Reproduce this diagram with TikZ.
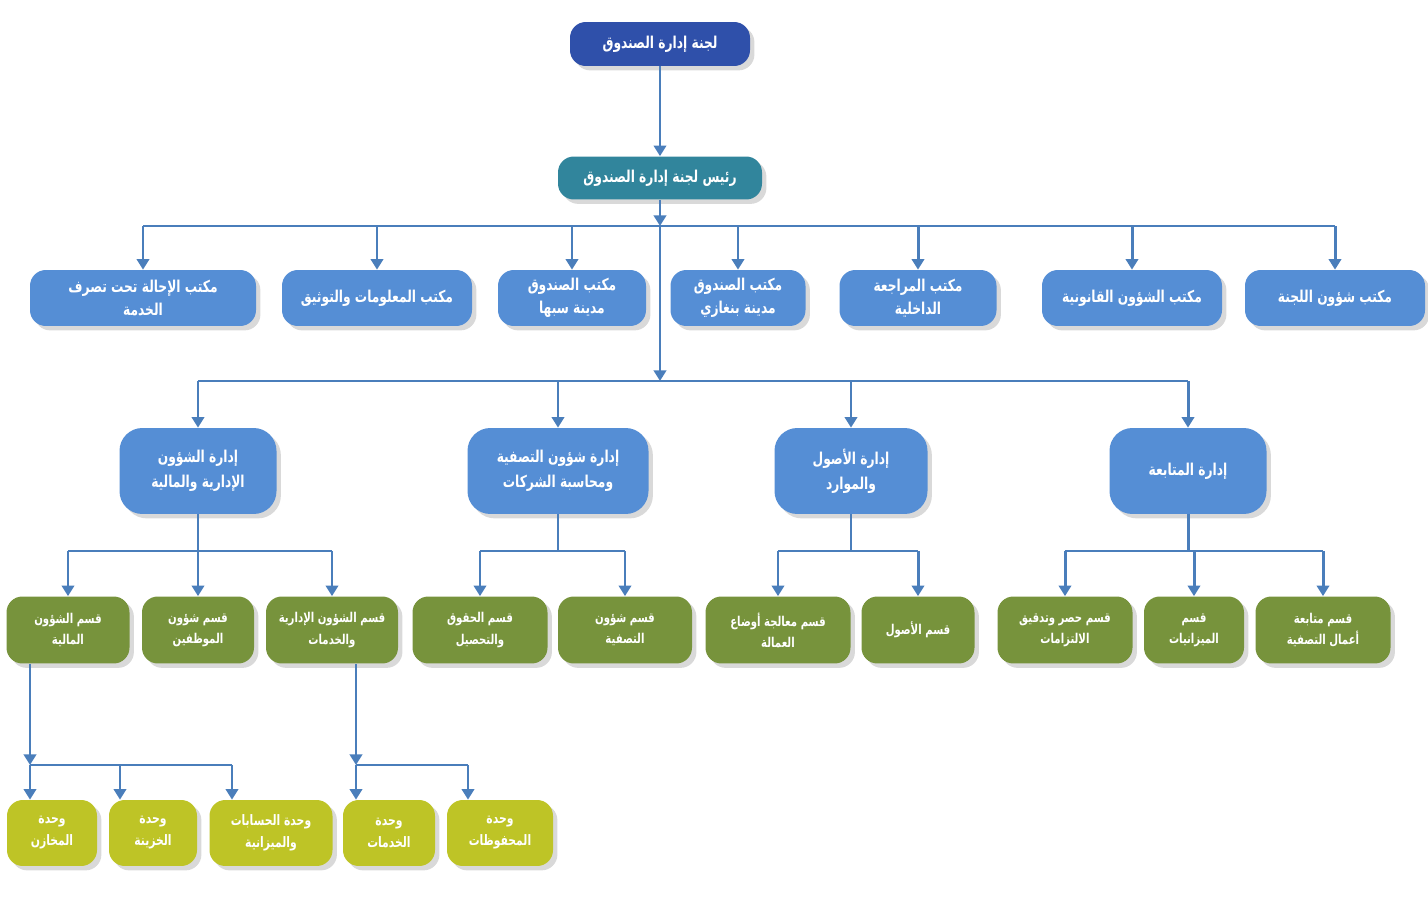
\documentclass[tikz,border=0pt]{standalone}
\usepackage{fontspec}
\usetikzlibrary{arrows.meta,shadows}
\TeXXeTstate=1
\newfontfamily\arabicfont[Script=Arabic,FakeStretch=0.75]{DejaVu Sans}
\newcommand{\ar}[1]{{\arabicfont\bfseries\beginR #1\endR}}

\definecolor{topblue}{RGB}{47,80,170}
\definecolor{teal}{RGB}{49,133,156}
\definecolor{offblue}{RGB}{85,142,213}
\definecolor{olive}{RGB}{119,147,60}
\definecolor{lime}{RGB}{190,196,38}
\definecolor{linkblue}{RGB}{74,126,187}

\tikzset{
  box/.style={rounded corners=9pt, text=white, align=center, inner sep=1pt,
    drop shadow={opacity=0.3, shadow xshift=2.5pt, shadow yshift=-2.5pt}},
  wd/.style={minimum width=#1*0.02cm},
  lvlzero/.style={box, fill=topblue, minimum height=0.88cm, font=\fontsize{9.3}{12}\selectfont},
  lvlchair/.style={box, fill=teal, minimum height=0.86cm, font=\fontsize{9.3}{12}\selectfont},
  office/.style={box, fill=offblue, minimum height=1.12cm, font=\fontsize{9.3}{13}\selectfont},
  dept/.style={box, fill=offblue, rounded corners=13pt, minimum height=1.72cm, font=\fontsize{9.3}{14}\selectfont},
  section/.style={box, fill=olive, minimum height=1.34cm, font=\fontsize{7.7}{12}\selectfont},
  unit/.style={box, fill=lime, minimum height=1.32cm, font=\fontsize{8.2}{12.5}\selectfont},
  link/.style={draw=linkblue, line width=1.7pt},
  arr/.style={link, -{Triangle[width=7pt,length=6pt]}}
}

\begin{document}
\begin{tikzpicture}[x=0.02cm,y=-0.02cm]
\useasboundingbox (0,0) rectangle (1428,899);

% committee and chairman
\node[lvlzero,wd=180] (board) at (660,44) {\ar{لجنة إدارة الصندوق}};
\node[lvlchair,wd=204] (chair) at (660,178) {\ar{رئيس لجنة إدارة الصندوق}};

% offices
\node[office,wd=226] (offref) at (143,298) {\ar{مكتب الإحالة تحت تصرف}\\\ar{الخدمة}};
\node[office,wd=190] (offinfo) at (377,298) {\ar{مكتب المعلومات والتوثيق}};
\node[office,wd=148] (offsabha) at (572,298) {\ar{مكتب الصندوق}\\\ar{مدينة سبها}};
\node[office,wd=135] (offbeng) at (738,298) {\ar{مكتب الصندوق}\\\ar{مدينة بنغازي}};
\node[office,wd=157] (offaudit) at (918,298) {\ar{مكتب المراجعة}\\\ar{الداخلية}};
\node[office,wd=180] (offlegal) at (1132,298) {\ar{مكتب الشؤون القانونية}};
\node[office,wd=180] (offcomm) at (1335,298) {\ar{مكتب شؤون اللجنة}};

% departments
\node[dept,wd=157] (depadm) at (198,471) {\ar{إدارة الشؤون}\\\ar{الإدارية والمالية}};
\node[dept,wd=181] (depliq) at (558,471) {\ar{إدارة شؤون التصفية}\\\ar{ومحاسبة الشركات}};
\node[dept,wd=153] (depass) at (851,471) {\ar{إدارة الأصول}\\\ar{والموارد}};
\node[dept,wd=157] (depfol) at (1188,471) {\ar{إدارة المتابعة}};

% sections
\node[section,wd=123] (secfin) at (68,630) {\ar{قسم الشؤون}\\\ar{المالية}};
\node[section,wd=112] (secstaff) at (198,630) {\ar{قسم شؤون}\\\ar{الموظفين}};
\node[section,wd=132] (secserv) at (332,630) {\ar{قسم الشؤون الإدارية}\\\ar{والخدمات}};
\node[section,wd=135] (secrights) at (480,630) {\ar{قسم الحقوق}\\\ar{والتحصيل}};
\node[section,wd=134] (secliq) at (625,630) {\ar{قسم شؤون}\\\ar{التصفية}};
\node[section,wd=145] (seclabor) at (778,630) {\ar{قسم معالجة أوضاع}\\\ar{العمالة}};
\node[section,wd=113] (secass) at (918,630) {\ar{قسم الأصول}};
\node[section,wd=135] (secaudit) at (1065,630) {\ar{قسم حصر وتدقيق}\\\ar{الالتزامات}};
\node[section,wd=100] (secbudg) at (1194,630) {\ar{قسم}\\\ar{الميزانيات}};
\node[section,wd=135] (secfol) at (1323,630) {\ar{قسم متابعة}\\\ar{أعمال التصفية}};

% units
\node[unit,wd=90] (unitstore) at (52,833) {\ar{وحدة}\\\ar{المخازن}};
\node[unit,wd=88] (unittreas) at (153,833) {\ar{وحدة}\\\ar{الخزينة}};
\node[unit,wd=123] (unitacc) at (271,833) {\ar{وحدة الحسابات}\\\ar{والميزانية}};
\node[unit,wd=92] (unitserv) at (389,833) {\ar{وحدة}\\\ar{الخدمات}};
\node[unit,wd=106] (unitarch) at (500,833) {\ar{وحدة}\\\ar{المحفوظات}};

% bus points
\coordinate (busone) at (660,226);
\coordinate (bustwo) at (660,381);
\coordinate (forkadm) at (198,551);
\coordinate (forkliq) at (558,551);
\coordinate (forkass) at (851,551);
\coordinate (forkfol) at (1188,551);
\coordinate (forkfin) at (30,765);
\coordinate (forktreas) at (120,765);
\coordinate (forkacc) at (232,765);
\coordinate (forkserv) at (356,765);
\coordinate (forkarch) at (468,765);

\draw[arr] (board) -- (chair);
\draw[arr] (chair) -- (busone);
\draw[link] (busone -| offref) -- (busone -| offcomm);
\foreach \n in {offref,offinfo,offsabha,offbeng,offaudit,offlegal,offcomm}
  \draw[arr] (busone -| \n) -- (\n);

\draw[arr] (busone) -- (bustwo);
\draw[link] (bustwo -| depadm) -- (bustwo -| depfol);
\foreach \n in {depadm,depliq,depass,depfol}
  \draw[arr] (bustwo -| \n) -- (\n);

\draw[link] (depadm) -- (forkadm);
\draw[link] (forkadm -| secfin) -- (forkadm -| secserv);
\foreach \n in {secfin,secstaff,secserv}
  \draw[arr] (forkadm -| \n) -- (\n);

\draw[link] (depliq) -- (forkliq);
\draw[link] (forkliq -| secrights) -- (forkliq -| secliq);
\foreach \n in {secrights,secliq}
  \draw[arr] (forkliq -| \n) -- (\n);

\draw[link] (depass) -- (forkass);
\draw[link] (forkass -| seclabor) -- (forkass -| secass);
\foreach \n in {seclabor,secass}
  \draw[arr] (forkass -| \n) -- (\n);

\draw[link] (depfol) -- (forkfol);
\draw[link] (forkfol -| secaudit) -- (forkfol -| secfol);
\foreach \n in {secaudit,secbudg,secfol}
  \draw[arr] (forkfol -| \n) -- (\n);

% units under the sections
\draw[arr] (forkfin |- secfin.south) -- (forkfin);
\draw[link] (forkfin) -- (forkacc);
\draw[arr] (forkfin) -- (forkfin |- unitstore.north);
\draw[arr] (forktreas) -- (forktreas |- unittreas.north);
\draw[arr] (forkacc) -- (forkacc |- unitacc.north);

\draw[arr] (forkserv |- secserv.south) -- (forkserv);
\draw[link] (forkserv) -- (forkarch);
\draw[arr] (forkserv) -- (forkserv |- unitserv.north);
\draw[arr] (forkarch) -- (forkarch |- unitarch.north);
\end{tikzpicture}
\end{document}
